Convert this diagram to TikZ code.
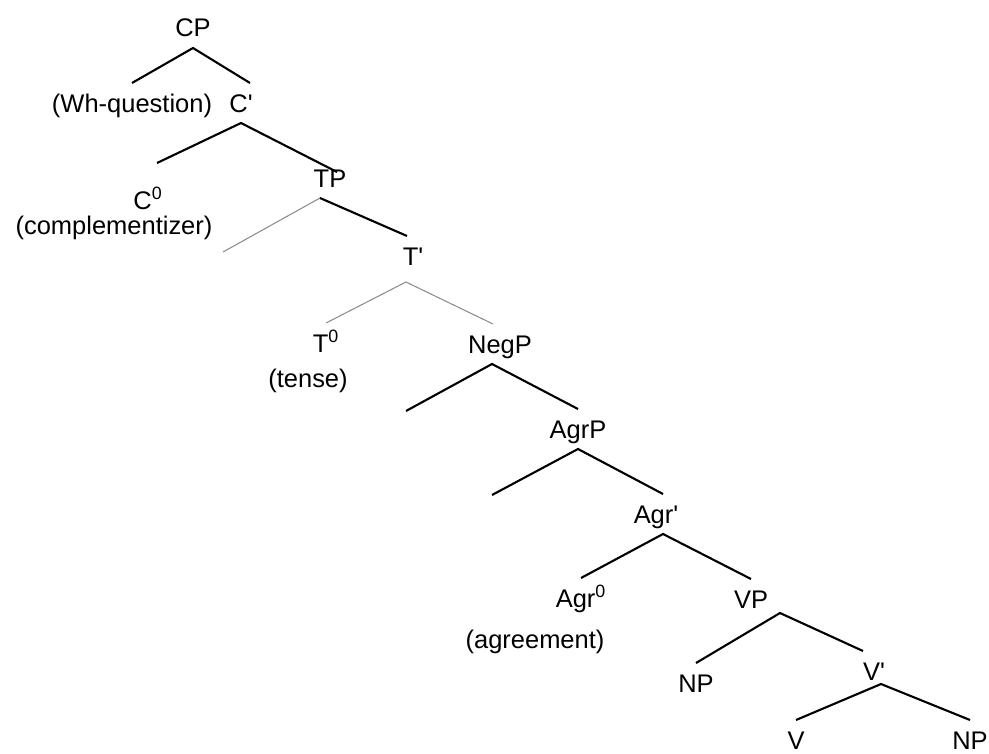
\documentclass[tikz,border=0pt]{standalone}
\usepackage{fontspec}
\setmainfont{Liberation Sans}
\usetikzlibrary{calc}
\tikzset{
  lbl/.style = {anchor=base, inner sep=0pt, outer xsep=0pt, outer ysep=2.2mm,
                text height=3.6mm, text depth=0pt,
                font=\fontsize{14.5}{17}\selectfont},
  note/.style = {lbl, outer ysep=0pt},
  branch/.style = {line width=1.2pt, black},
  faint/.style = {line width=0.6pt, black!45},
}
\newcommand{\headzero}[1]{#1\textsuperscript{0}}
\newcommand{\barlevel}[1]{#1\textquotesingle}

\begin{document}
\begin{tikzpicture}[x=0.2mm, y=-0.2mm]
  \useasboundingbox (0,0) rectangle (989,753);

  % labels of the tree
  \node[lbl] (cp)     at (193,37)  {CP};
  \node[lbl] (wh)     at (132,112) {(Wh-question)};
  \node[lbl] (cbar)   at (241,112) {\barlevel{C}};
  \node[lbl] (c0)     at (148,209) {\headzero{C}};
  \node[note] (comp)  at (114,234) {(complementizer)};
  \node[lbl] (tp)     at (330,187) {TP};
  \node[lbl] (tbar)   at (413,265) {\barlevel{T}};
  \node[lbl] (t0)     at (326,352) {\headzero{T}};
  \node[note] (tense) at (308,387) {(tense)};
  \node[lbl] (negp)   at (500,353) {NegP};
  \node[lbl] (agrp)   at (578,438) {AgrP};
  \node[lbl] (agrbar) at (656,523) {\barlevel{Agr}};
  \node[lbl] (agr0)   at (581,607) {\headzero{Agr}};
  \node[note] (agree) at (535,648) {(agreement)};
  \node[lbl] (vp)     at (751,608) {VP};
  \node[lbl] (np1)    at (696,692) {NP};
  \node[lbl] (vbar)   at (874,680) {\barlevel{V}};
  \node[lbl] (v)      at (796,749) {V};
  \node[lbl] (np2)    at (970,749) {NP};

  % empty specifiers
  \coordinate (tp-spec)   at (223,252);
  \coordinate (negp-spec) at (406,411);
  \coordinate (agrp-spec) at (492,495);

  % branches
  \draw[branch] (wh.north) -- (cp.south) -- ([xshift=1.8mm]cbar.north);
  \draw[branch] ([shift={(1.8mm,3.4mm)}]c0.north) -- (cbar.south)
                -- ([shift={(1.4mm,-2.8mm)}]tp.north);
  \draw[faint] (tp-spec) -- ([xshift=-2mm]tp.south);
  \draw[branch] ([xshift=-2mm]tp.south) -- ([xshift=-1.2mm]tbar.north);
  \draw[faint] (t0.north) -- ([shift={(-1.4mm,-1.2mm)}]tbar.south)
               -- ([xshift=-1.4mm]negp.north);
  \draw[branch] (negp-spec) -- ([xshift=-1.6mm]negp.south) -- (agrp.north);
  \draw[branch] (agrp-spec) -- (agrp.south) -- ([xshift=1.4mm]agrbar.north);
  \draw[branch] (agr0.north) -- ([xshift=1.4mm]agrbar.south) -- (vp.north);
  \draw[branch] (np1.north) -- ([shift={(5.8mm,1.2mm)}]vp.south)
                -- ([xshift=-2.2mm]vbar.north);
  \draw[branch] (v.north) -- ([shift={(1.4mm,1.4mm)}]vbar.south) -- (np2.north);

\end{tikzpicture}
\end{document}
